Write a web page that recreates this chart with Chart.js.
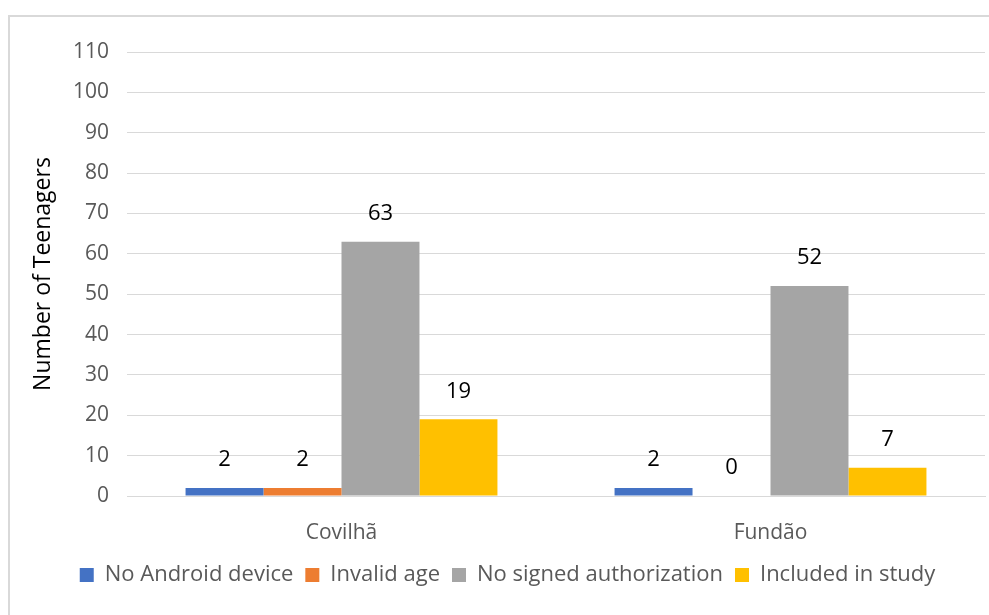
<!DOCTYPE html>
<html>
<head>
<meta charset="utf-8">
<script src="https://cdn.jsdelivr.net/npm/chart.js@4"></script>
<style>
  html, body { margin: 0; padding: 0; background: #fff; overflow: hidden; }
  #frame { position: absolute; left: 8px; top: 15px; width: 1000px; height: 620px; border: 2px solid #d9d9d9; }
  #wrap { position: absolute; left: 0; top: 0; width: 989px; height: 615px; }
</style>
</head>
<body>
<div id="frame"></div>
<div id="wrap"><canvas id="chart" width="989" height="615"></canvas></div>
<script>
const categories = ['Covilhã', 'Fundão'];
const noAndroid = [2, 2];
const invalidAge = [2, 0];
const noAuthorization = [63, 52];
const included = [19, 7];
const yTicks = [0, 10, 20, 30, 40, 50, 60, 70, 80, 90, 100, 110];

const FONT = "'Open Sans', 'Noto Sans', sans-serif";

// value labels drawn above each bar
const barLabels = {
    id: 'barLabels',
    afterDatasetsDraw(chart) {
        const ctx = chart.ctx;
        ctx.save();
        ctx.font = '22px ' + FONT;
        ctx.fillStyle = '#000';
        ctx.textAlign = 'center';
        ctx.textBaseline = 'middle';
        chart.data.datasets.forEach((ds, i) => {
            chart.getDatasetMeta(i).data.forEach((bar, j) => {
                ctx.fillText(ds.data[j], bar.x, bar.y - 28);
            });
        });
        ctx.restore();
    }
};

new Chart(document.getElementById('chart').getContext('2d'), {
    type: 'bar',
    data: {
        labels: categories,
        datasets: [
            { label: 'No Android device', data: noAndroid, backgroundColor: '#4472C4' },
            { label: 'Invalid age', data: invalidAge, backgroundColor: '#ED7D31' },
            { label: 'No signed authorization', data: noAuthorization, backgroundColor: '#A5A5A5' },
            { label: 'Included in study', data: included, backgroundColor: '#FFC000' }
        ]
    },
    options: {
        responsive: false,
        animation: false,
        layout: { padding: { left: 30, right: 4, top: 52, bottom: 19 } },
        datasets: { bar: { categoryPercentage: 0.727, barPercentage: 1.0 } },
        scales: {
            x: {
                grid: { display: false },
                border: { color: '#d9d9d9' },
                ticks: { color: '#595959', font: { family: FONT, size: 21 }, padding: 16 },
                afterFit: s => { s.height = 56; }
            },
            y: {
                min: 0,
                max: 110,
                afterBuildTicks: s => { s.ticks = yTicks.map(v => ({ value: v })); },
                grid: { color: '#d9d9d9', drawTicks: false },
                border: { display: false },
                ticks: { color: '#595959', font: { family: FONT, size: 21 }, padding: 18 },
                title: { display: true, text: 'Number of Teenagers', color: '#000', font: { family: FONT, size: 23 }, padding: 0 },
                afterFit: s => { s.width = 97; }
            }
        },
        plugins: {
            legend: {
                position: 'bottom',
                labels: {
                    boxWidth: 14,
                    boxHeight: 14,
                    padding: 12,
                    color: '#595959',
                    font: { family: FONT, size: 22 }
                }
            },
            tooltip: { enabled: false }
        }
    },
    plugins: [barLabels]
});
</script>
</body>
</html>
